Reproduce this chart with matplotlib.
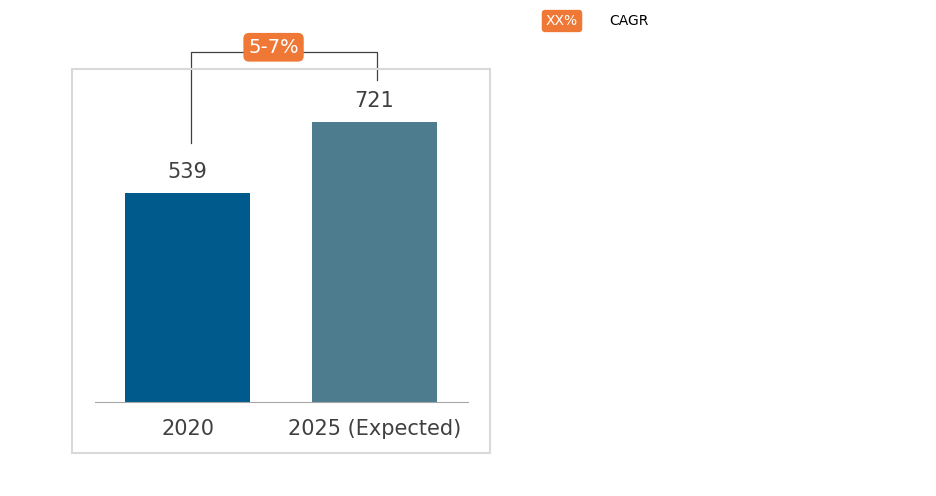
import matplotlib
matplotlib.use("Agg")
import matplotlib.pyplot as plt
from matplotlib.patches import Rectangle

categories = ["2020", "2025 (Expected)"]
values = [539, 721]
cagr_label = "5-7%"
colors = ["#005A8B", "#4C7C8E"]

W, H = 937, 496
fig = plt.figure(figsize=(W/100, H/100), dpi=100)
fig.patch.set_facecolor("white")

def fx(x): return x / W
def fy(y): return 1 - y / H

# outer frame
fig.patches.append(Rectangle((fx(72), fy(453)), fx(490)-fx(72), fy(69)-fy(453),
                             transform=fig.transFigure, fill=False, ec="#D9D9D9", lw=1.5))

ax = fig.add_axes([fx(95), fy(402), fx(468)-fx(95), fy(69)-fy(402)])
ax.set_facecolor("none")
pos = list(range(len(categories)))
ax.bar(pos, values, width=0.668, color=colors)
ax.set_xlim(-0.495, 1.5)
ax.set_ylim(0, 858)
for s in ["top", "right", "left"]:
    ax.spines[s].set_visible(False)
ax.spines["bottom"].set_color("#A6A6A6")
ax.set_yticks([])
ax.set_xticks(pos)
ax.set_xticklabels(categories, fontsize=15, color="#404040")
ax.tick_params(axis="x", length=0, pad=12)
for p, v in zip(pos, values):
    ax.text(p, v + 28, str(v), ha="center", va="bottom", fontsize=15, color="#404040")

# CAGR bracket
top = 902
ax.plot([0.019, 0.019, 1.013, 1.013], [667, top, top, 830], color="#404040", lw=0.9, clip_on=False)
ax.text(0.46, top + 12, cagr_label, ha="center", va="center", fontsize=14, color="white",
        bbox=dict(boxstyle="round,pad=0.25,rounding_size=0.3", fc="#F07836", ec="none"),
        clip_on=False)

# legend
fig.text(fx(562), fy(21), "XX%", ha="center", va="center", fontsize=10, color="white",
         bbox=dict(boxstyle="round,pad=0.3,rounding_size=0.25", fc="#F07836", ec="none"))
fig.text(fx(609), fy(21), "CAGR", ha="left", va="center", fontsize=10, color="black")

fig.savefig("out.png", dpi=100)
